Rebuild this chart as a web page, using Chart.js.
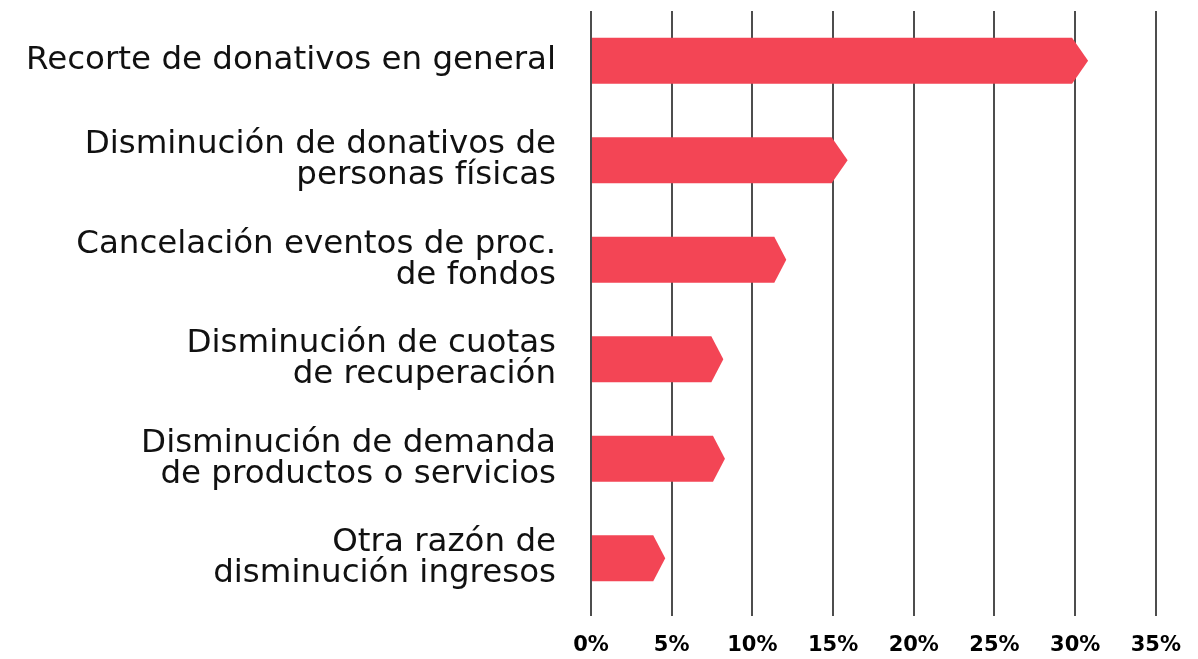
<!DOCTYPE html>
<html><head><meta charset="utf-8">
<script src="https://cdn.jsdelivr.net/npm/chart.js@4"></script>
<style>html,body{margin:0;padding:0;background:#fff}#wrap{width:1198px;height:659px}</style>
</head><body><div id="wrap"><canvas id="c" width="1198" height="659"></canvas></div>
<script>
const categories = [
  ["Recorte de donativos en general"],
  ["Disminución de donativos de", "personas físicas"],
  ["Cancelación eventos de proc.", "de fondos"],
  ["Disminución de cuotas", "de recuperación"],
  ["Disminución de demanda", "de productos o servicios"],
  ["Otra razón de", "disminución ingresos"]
];
const values = [30.8, 15.9, 12.1, 8.2, 8.3, 4.6];
const tickValues = [0, 5, 10, 15, 20, 25, 30, 35];

const arrowPlugin = {
  id: 'arrowBars',
  afterDatasetsDraw(chart, args, opts) {
    const ctx = chart.ctx;
    const meta = chart.getDatasetMeta(0);
    ctx.save();
    ctx.fillStyle = opts.color;
    meta.data.forEach((el, i) => {
      const p = el.getProps(['x', 'y', 'base', 'height'], true);
      const tip = opts.tips[i];
      const top = p.y - p.height / 2, bot = p.y + p.height / 2;
      ctx.beginPath();
      ctx.moveTo(p.base, top);
      ctx.lineTo(p.x - tip, top);
      ctx.lineTo(p.x, p.y);
      ctx.lineTo(p.x - tip, bot);
      ctx.lineTo(p.base, bot);
      ctx.closePath();
      ctx.fill();
    });
    ctx.restore();
  }
};

new Chart(document.getElementById('c'), {
  type: 'bar',
  data: {
    labels: categories,
    datasets: [{ data: values, backgroundColor: 'rgba(0,0,0,0)', barThickness: 46 }]
  },
  options: {
    indexAxis: 'y',
    responsive: false,
    animation: false,
    layout: { padding: { top: 11, right: 41, left: 0, bottom: 0 } },
    plugins: {
      legend: { display: false },
      tooltip: { enabled: false },
      arrowBars: { color: '#f34555', tips: [16, 16, 12, 12, 12, 12] }
    },
    scales: {
      x: {
        min: 0, max: 35,
        afterBuildTicks(s) { s.ticks = tickValues.map(v => ({ value: v })); },
        afterFit(s) { s.height = 51; },
        grid: { color: '#4d4d4d', lineWidth: 2, drawTicks: true, tickLength: 8 },
        border: { display: false },
        ticks: {
          padding: 17,
          color: '#000',
          font: { family: 'DejaVu Sans', weight: 'bold', size: 21 },
          callback: v => v + '%'
        }
      },
      y: {
        afterFit(s) { s.width = 591; s.paddingTop = 0; s.paddingBottom = 0; },
        grid: { display: false },
        border: { display: false },
        ticks: {
          padding: 27,
          color: '#111',
          font: { family: 'DejaVu Sans', size: 32.5, lineHeight: 0.96 }
        }
      }
    }
  },
  plugins: [arrowPlugin]
});
</script></body></html>
